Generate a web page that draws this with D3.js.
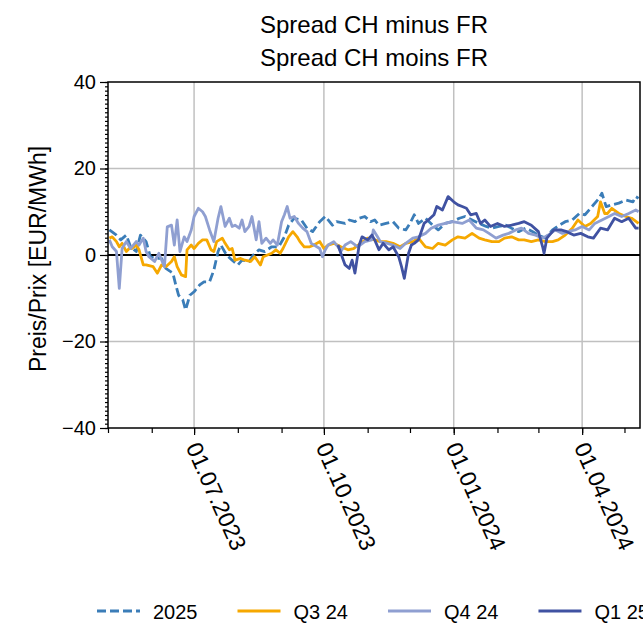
<!DOCTYPE html>
<html>
<head>
<meta charset="utf-8">
<script src="https://cdn.jsdelivr.net/npm/d3@7"></script>
<style>
body{margin:0;background:#fff}
text{font-family:"Liberation Sans",Arial,sans-serif;fill:#000}
</style>
</head>
<body>
<svg id="chart" width="643" height="625"></svg>
<script>
// spread series, EUR/MWh
var s2025 = [
["2023-05-02",5.8],["2023-05-07",4.6],["2023-05-10",3.5],["2023-05-14",4.6],["2023-05-17",1.9],
["2023-05-21",0.8],["2023-05-24",4.6],["2023-05-28",3.1],["2023-05-31",-0.4],["2023-06-04",-0.8],
["2023-06-08",-0.8],["2023-06-11",-3.1],["2023-06-16",-4.2],["2023-06-18",-6.9],["2023-06-20",-9.3],
["2023-06-23",-10.4],["2023-06-25",-12.7],["2023-06-28",-9.3],["2023-07-01",-8.5],["2023-07-05",-6.9],
["2023-07-08",-6.2],["2023-07-12",-6.2],["2023-07-15",-3.5],["2023-07-18",0.8],["2023-07-20",2.3],
["2023-07-24",0],["2023-07-28",-1.2],["2023-08-01",-2.3],["2023-08-04",-1.2],["2023-08-09",-1.5],
["2023-08-12",0],["2023-08-16",1.2],["2023-08-20",0.8],["2023-08-25",1.9],["2023-08-30",1.9],
["2023-09-03",4.2],["2023-09-06",6.9],["2023-09-10",8.5],["2023-09-15",8.1],["2023-09-19",6.2],
["2023-09-23",5.4],["2023-09-28",7.7],["2023-10-02",8.9],["2023-10-07",6.9],["2023-10-10",7.7],
["2023-10-16",7.3],["2023-10-19",8.1],["2023-10-23",7.7],["2023-10-26",8.5],["2023-10-30",8.9],
["2023-11-03",7.7],["2023-11-06",8.1],["2023-11-09",6.9],["2023-11-14",7.3],["2023-11-19",7.7],
["2023-11-23",6.2],["2023-11-28",5.8],["2023-12-01",7.3],["2023-12-04",9.3],["2023-12-07",7.3],
["2023-12-12",8.5],["2023-12-17",6.9],["2023-12-21",5.8],["2023-12-26",7.3],["2023-12-31",7.7],
["2024-01-05",8.5],["2024-01-09",8.9],["2024-01-14",8.1],["2024-01-19",7.3],["2024-01-24",6.6],
["2024-01-28",6.2],["2024-02-02",6.6],["2024-02-07",6.9],["2024-02-11",6.2],["2024-02-16",5.4],
["2024-02-21",6.2],["2024-02-26",5.4],["2024-03-01",4.6],["2024-03-06",3.9],["2024-03-11",5.8],
["2024-03-16",6.9],["2024-03-20",7.7],["2024-03-25",8.1],["2024-03-30",9.6],["2024-04-03",9.3],
["2024-04-08",11.2],["2024-04-13",13.1],["2024-04-15",14.3],["2024-04-18",11.2],["2024-04-22",11.6],
["2024-04-27",12],["2024-05-02",12.7],["2024-05-07",12.3],["2024-05-09",13.5],["2024-05-11",13.1]
];
var sQ324 = [
["2023-05-02",3.9],["2023-05-04",4.2],["2023-05-07",3.1],["2023-05-09",1.9],["2023-05-11",2.7],
["2023-05-14",0.8],["2023-05-16",1.5],["2023-05-18",1.5],["2023-05-21",2.3],["2023-05-23",1.2],
["2023-05-26",-2.3],["2023-05-28",-2.3],["2023-06-02",-2.7],["2023-06-05",-4.2],["2023-06-08",-2.3],
["2023-06-11",-2.7],["2023-06-15",-1.5],["2023-06-17",-0.4],["2023-06-19",-2.7],["2023-06-22",-4.6],
["2023-06-25",-5],["2023-06-26",1.2],["2023-06-29",2.3],["2023-07-01",1.5],["2023-07-04",2.7],
["2023-07-07",3.5],["2023-07-10",3.5],["2023-07-13",1.2],["2023-07-15",0.8],["2023-07-17",3.1],
["2023-07-21",3.9],["2023-07-23",2.7],["2023-07-26",1.2],["2023-07-28",1.5],["2023-07-30",-1.2],
["2023-08-03",-0.8],["2023-08-06",-1.2],["2023-08-10",-1.5],["2023-08-13",-0.4],["2023-08-17",-2.3],
["2023-08-19",-0.4],["2023-08-22",0],["2023-08-25",0.4],["2023-08-28",1.2],["2023-08-31",0.4],
["2023-09-02",1.5],["2023-09-06",4.2],["2023-09-09",5.4],["2023-09-12",4.2],["2023-09-14",3.1],
["2023-09-17",1.9],["2023-09-21",1.9],["2023-09-24",2.3],["2023-09-28",3.1],["2023-10-01",1.5],
["2023-10-04",2.3],["2023-10-08",2.7],["2023-10-13",1.9],["2023-10-18",1.2],["2023-10-22",1.5],
["2023-10-27",2.7],["2023-11-01",3.9],["2023-11-06",3.5],["2023-11-10",3.1],["2023-11-14",3.1],
["2023-11-19",2.7],["2023-11-24",1.9],["2023-11-28",2.7],["2023-12-03",3.1],["2023-12-07",3.9],
["2023-12-12",1.9],["2023-12-17",1.5],["2023-12-21",2.7],["2023-12-26",2.3],["2023-12-31",3.5],
["2024-01-04",4.2],["2024-01-09",3.9],["2024-01-14",5],["2024-01-19",3.9],["2024-01-23",3.5],
["2024-01-28",3.1],["2024-02-02",3.1],["2024-02-06",3.9],["2024-02-11",4.2],["2024-02-16",3.5],
["2024-02-20",3.5],["2024-02-25",3.1],["2024-03-01",3.5],["2024-03-06",3.1],["2024-03-11",3.1],
["2024-03-15",3.5],["2024-03-20",4.6],["2024-03-25",6.2],["2024-03-29",8.1],["2024-04-03",6.6],
["2024-04-07",7.3],["2024-04-12",8.9],["2024-04-14",12.3],["2024-04-17",9.6],["2024-04-19",9.6],
["2024-04-22",10.8],["2024-04-27",9.6],["2024-05-02",8.9],["2024-05-06",8.5],["2024-05-11",7.3]
];
var sQ424 = [
["2023-05-02",3.5],["2023-05-04",1.9],["2023-05-07",0.8],["2023-05-09",-7.7],["2023-05-11",1.5],
["2023-05-14",3.1],["2023-05-17",1.5],["2023-05-21",3.1],["2023-05-23",2.3],["2023-05-26",3.9],
["2023-05-28",0.8],["2023-05-30",-0.4],["2023-06-03",-1.5],["2023-06-06",0.4],["2023-06-10",-2.7],
["2023-06-12",6.5],["2023-06-15",6.9],["2023-06-17",2.3],["2023-06-19",8.1],["2023-06-21",0.8],
["2023-06-24",4.2],["2023-06-26",3.1],["2023-06-29",5.8],["2023-07-01",8.9],["2023-07-04",10.8],
["2023-07-07",10],["2023-07-09",8.9],["2023-07-12",5.8],["2023-07-15",3.1],["2023-07-18",8.5],
["2023-07-20",11.2],["2023-07-23",6.6],["2023-07-26",8.5],["2023-07-28",6.6],["2023-07-30",6.9],
["2023-08-02",6.2],["2023-08-04",8.1],["2023-08-06",5.4],["2023-08-09",6.6],["2023-08-11",8.9],
["2023-08-14",3.5],["2023-08-16",7.7],["2023-08-18",2.7],["2023-08-21",3.9],["2023-08-24",2.7],
["2023-08-26",3.5],["2023-08-29",2.3],["2023-09-01",7.7],["2023-09-03",9.3],["2023-09-05",11.2],
["2023-09-07",8.5],["2023-09-10",8.9],["2023-09-13",7.3],["2023-09-16",6.2],["2023-09-19",5.4],
["2023-09-22",2.7],["2023-09-24",2.3],["2023-09-28",1.5],["2023-09-30",-0.4],["2023-10-02",1.2],
["2023-10-04",2.3],["2023-10-08",3.1],["2023-10-11",1.9],["2023-10-13",0.8],["2023-10-16",2.3],
["2023-10-20",3.1],["2023-10-25",1.9],["2023-10-30",3.1],["2023-11-04",3.5],["2023-11-05",5.8],
["2023-11-08",4.2],["2023-11-10",3.1],["2023-11-15",2.7],["2023-11-19",2.3],["2023-11-24",1.5],
["2023-11-28",2.7],["2023-12-03",3.9],["2023-12-07",4.2],["2023-12-12",5],["2023-12-16",6.2],
["2023-12-21",6.9],["2023-12-31",7.7],["2024-01-07",7.3],["2024-01-12",8.1],["2024-01-17",6.2],
["2024-01-22",5.8],["2024-01-26",5],["2024-01-31",3.9],["2024-02-05",4.6],["2024-02-09",5],
["2024-02-14",5.8],["2024-02-18",6.2],["2024-02-23",5],["2024-02-28",4.6],["2024-03-04",3.9],
["2024-03-08",4.6],["2024-03-13",5.8],["2024-03-18",5],["2024-03-22",5.4],["2024-03-27",5.8],
["2024-04-01",6.6],["2024-04-06",5.8],["2024-04-10",7.3],["2024-04-15",8.1],["2024-04-20",8.9],
["2024-04-24",9.6],["2024-04-29",8.9],["2024-05-04",9.6],["2024-05-09",10.4],["2024-05-11",10]
];
var sQ125 = [
["2023-10-11",2.3],["2023-10-13",0.4],["2023-10-16",-2.3],["2023-10-19",-3.1],["2023-10-21",-1.2],
["2023-10-23",-4.2],["2023-10-26",2.3],["2023-10-28",4.2],["2023-11-01",3.5],["2023-11-04",4.6],
["2023-11-06",3.5],["2023-11-09",1.2],["2023-11-12",2.7],["2023-11-16",1.2],["2023-11-19",1.9],
["2023-11-23",-0.4],["2023-11-25",-2.7],["2023-11-27",-5.4],["2023-11-30",0.4],["2023-12-02",2.3],
["2023-12-04",2.7],["2023-12-07",3.5],["2023-12-11",7.3],["2023-12-14",8.1],["2023-12-18",9.3],
["2023-12-20",11.2],["2023-12-24",10.4],["2023-12-28",13.5],["2024-01-01",12.3],["2024-01-04",11.6],
["2024-01-07",11.2],["2024-01-10",10.8],["2024-01-13",9.3],["2024-01-17",9.6],["2024-01-20",7.3],
["2024-01-23",8.1],["2024-01-27",6.6],["2024-02-01",7.3],["2024-02-06",6.6],["2024-02-11",6.9],
["2024-02-16",7.3],["2024-02-20",7.7],["2024-02-25",6.9],["2024-03-01",5.4],["2024-03-04",1.9],
["2024-03-05",0.4],["2024-03-07",3.9],["2024-03-12",5.8],["2024-03-17",5.8],["2024-03-21",5.4],
["2024-03-26",4.6],["2024-03-31",5],["2024-04-05",4.2],["2024-04-09",3.9],["2024-04-14",6.2],
["2024-04-19",5.8],["2024-04-24",8.5],["2024-04-29",7.7],["2024-05-04",8.5],["2024-05-09",6.2],
["2024-05-11",6.2]
];

var seriesNames = ["2025", "Q3 24", "Q4 24", "Q1 25"];
var seriesColors = ["#3b7db8", "#f6a800", "#8f9fd1", "#4052a2"];
var seriesDash = ["9,4", null, null, null];
var yTicks = [-40, -20, 0, 20, 40];
var xStart = "2023-05-01", xEnd = "2024-05-12";
var titleLines = ["Spread CH minus FR", "Spread CH moins FR"];
var yLabel = "Preis/Prix [EUR/MWh]";

var parse = d3.timeParse("%Y-%m-%d");
var allSeries = [s2025, sQ324, sQ424, sQ125].map(function(s){
  return s.map(function(d){ return {date: parse(d[0]), value: d[1]}; });
});

var svg = d3.select("#chart");
var pL = 108, pR = 640, pT = 82, pB = 428;

var x = d3.scaleTime().domain([parse(xStart), parse(xEnd)]).range([pL, pR]);
var y = d3.scaleLinear().domain([-40, 40]).range([pB, pT]);

var majorDates = d3.timeMonth.every(3).range(parse(xStart), parse(xEnd));
var minorDates = d3.timeMonth.every(1).range(parse(xStart), parse(xEnd));

// grid
svg.append("g").selectAll("line").data(majorDates).enter().append("line")
  .attr("x1", d => x(d)).attr("x2", d => x(d))
  .attr("y1", pT).attr("y2", pB)
  .attr("stroke", "#c0c0c0").attr("stroke-width", 1.5);
svg.append("g").selectAll("line").data(yTicks.filter(v => v !== 0 && Math.abs(v) < 40)).enter().append("line")
  .attr("x1", pL).attr("x2", pR)
  .attr("y1", d => y(d)).attr("y2", d => y(d))
  .attr("stroke", "#c0c0c0").attr("stroke-width", 1.5);

svg.append("defs").append("clipPath").attr("id", "plotclip")
  .append("rect").attr("x", pL).attr("y", pT).attr("width", pR - pL).attr("height", pB - pT);

// zero line
svg.append("line")
  .attr("x1", pL).attr("x2", pR).attr("y1", y(0)).attr("y2", y(0))
  .attr("stroke", "#000").attr("stroke-width", 2);

var line = d3.line().x(d => x(d.date)).y(d => y(d.value));
var lines = svg.append("g").attr("clip-path", "url(#plotclip)");
allSeries.forEach(function(s, i){
  lines.append("path").datum(s)
    .attr("d", line)
    .attr("fill", "none")
    .attr("stroke", seriesColors[i])
    .attr("stroke-width", 2.8)
    .attr("stroke-linejoin", "round")
    .attr("stroke-dasharray", seriesDash[i]);
});

// frame
svg.append("rect").attr("x", pL).attr("y", pT).attr("width", pR - pL).attr("height", pB - pT)
  .attr("fill", "none").attr("stroke", "#000").attr("stroke-width", 1.5);

// y axis
var yMinor = svg.append("g").attr("transform", "translate(" + pL + ",0)")
  .call(d3.axisLeft(y).tickValues(d3.range(-40, 41, 1)).tickSize(3).tickFormat(""));
var yMajor = svg.append("g").attr("transform", "translate(" + pL + ",0)")
  .call(d3.axisLeft(y).tickValues(yTicks).tickSize(8).tickPadding(4).tickFormat(d => d < 0 ? "\u2212" + Math.abs(d) : d));
yMajor.selectAll("text").style("font-size", "20px");
[yMinor, yMajor].forEach(g => { g.select(".domain").remove(); g.selectAll("line").attr("stroke", "#000").attr("stroke-width", 1.2); });

// x axis
var xMinor = svg.append("g").attr("transform", "translate(0," + pB + ")")
  .call(d3.axisBottom(x).tickValues(minorDates).tickSize(5).tickFormat(""));
var xMajor = svg.append("g").attr("transform", "translate(0," + pB + ")")
  .call(d3.axisBottom(x).tickValues(majorDates).tickSize(7).tickFormat(d3.timeFormat("%d.%m.%Y")));
xMajor.selectAll("text")
  .style("font-size", "23px")
  .attr("text-anchor", "start")
  .attr("dy", null)
  .attr("y", 0)
  .attr("transform", "translate(-9,19) rotate(66)");
[xMinor, xMajor].forEach(g => { g.select(".domain").remove(); g.selectAll("line").attr("stroke", "#000").attr("stroke-width", 1.2); });

// titles
svg.append("g").selectAll("text").data(titleLines).enter().append("text")
  .attr("x", 374).attr("y", (d, i) => 33 + i * 33)
  .attr("text-anchor", "middle").style("font-size", "24px")
  .text(d => d);

svg.append("text")
  .attr("transform", "translate(46,259) rotate(-90)")
  .attr("text-anchor", "middle").style("font-size", "23px")
  .text(yLabel);

// legend, laid out one entry after the other
var legend = svg.append("g").attr("transform", "translate(97,611)");
var lx = 0;
seriesNames.forEach(function(name, i){
  var item = legend.append("g").attr("transform", "translate(" + lx + ",0)");
  item.append("line")
    .attr("x1", 0).attr("x2", 43)
    .attr("stroke", seriesColors[i])
    .attr("stroke-width", 3)
    .attr("stroke-dasharray", seriesDash[i]);
  var t = item.append("text")
    .attr("x", 56).attr("y", 8)
    .style("font-size", "20px")
    .text(name);
  lx += 56 + t.node().getComputedTextLength() + 40;
});
</script>
</body>
</html>
